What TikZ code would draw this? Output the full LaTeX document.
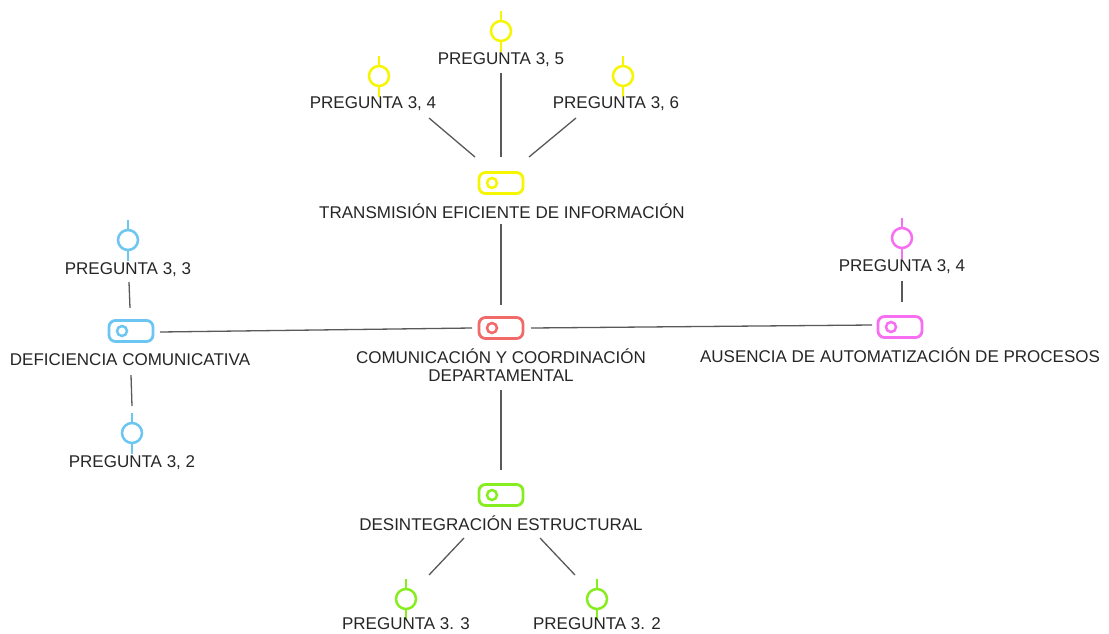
\documentclass[tikz,border=0pt]{standalone}
\usepackage{fontspec}
\setmainfont{Liberation Sans}
\begin{document}
\begin{tikzpicture}[x=1pt,y=-1pt,
  lbl/.style={inner sep=0pt, text=black!85, font=\fontsize{17}{18}\selectfont},
  icon/.style={draw=#1, line width=2.8pt, rounded corners=6.5pt, minimum width=44pt,
    minimum height=21pt, inner sep=0pt},
  marker/.style={draw=#1, line width=2.5pt, circle, minimum size=20pt, inner sep=0pt},
  stem/.style={#1, line width=2.5pt},
  link/.style={draw=black!65, line width=1.3pt}]
\definecolor{cred}{HTML}{F06A6A}
\definecolor{cyel}{HTML}{F6F600}
\definecolor{cblu}{HTML}{6CC6F2}
\definecolor{cmag}{HTML}{F76EF2}
\definecolor{cgrn}{HTML}{86EE20}
\useasboundingbox[fill=white] (0,0) rectangle (1109,633);

% --- central topic
\node[icon=cred] (cen) at (501,328) {};
\draw[cred, line width=2.5pt] ([xshift=-9pt]cen.center) circle (5pt);
\node[lbl, align=center] (cent) at (501,365) {COMUNICACIÓN Y COORDINACIÓN\\DEPARTAMENTAL};

% --- topics
\node[icon=cyel] (top) at (501,183) {};
\draw[cyel, line width=2.5pt] ([xshift=-9pt]top.center) circle (5pt);
\node[lbl] (topt) at (502,211) {TRANSMISIÓN EFICIENTE DE INFORMACIÓN};

\node[icon=cblu] (lft) at (131,331) {};
\draw[cblu, line width=2.5pt] ([xshift=-9pt]lft.center) circle (5pt);
\node[lbl] (lftt) at (130,360) {DEFICIENCIA COMUNICATIVA};

\node[icon=cmag] (rgt) at (900,327) {};
\draw[cmag, line width=2.5pt] ([xshift=-9pt]rgt.center) circle (5pt);
\node[lbl] (rgtt) at (900,355) {AUSENCIA DE AUTOMATIZACIÓN DE PROCESOS};

\node[icon=cgrn] (bot) at (501,495) {};
\draw[cgrn, line width=2.5pt] ([xshift=-9pt]bot.center) circle (5pt);
\node[lbl] (bott) at (501,523) {DESINTEGRACIÓN ESTRUCTURAL};

% --- question markers: circle with short stems above and below
\foreach \n/\x/\y/\c in {q5/501/31/cyel, q4/379/76/cyel, q6/623/76/cyel,
    q33/128/240/cblu, q32/132/433/cblu, qm4/902/238/cmag,
    qg3/406/599/cgrn, qg2/597/599/cgrn} {
  \node[marker=\c] (\n) at (\x,\y) {};
  \draw[stem=\c] (\n.north) -- ([yshift=9pt]\n.north);
  \draw[stem=\c] (\n.south) -- ([yshift=-10pt]\n.south);
}
\node[lbl] (q5t) at (501,60) {PREGUNTA 3, 5};
\node[lbl] (q4t) at (373,104) {PREGUNTA 3, 4};
\node[lbl] (q6t) at (616,104) {PREGUNTA 3, 6};
\node[lbl] (q33t) at (128,270) {PREGUNTA 3, 3};
\node[lbl] (q32t) at (132,463) {PREGUNTA 3, 2};
\node[lbl] (qm4t) at (902,267) {PREGUNTA 3, 4};
\node[lbl] (qg3t) at (406,624) {PREGUNTA 3. 3};
\node[lbl] (qg2t) at (597,624) {PREGUNTA 3. 2};

% --- connector end points
\coordinate (a1) at (501,224); \coordinate (a2) at (501,305);
\coordinate (b1) at (160,332); \coordinate (b2) at (472,328);
\coordinate (c1) at (531,328); \coordinate (c2) at (872,325);
\coordinate (d1) at (501,390); \coordinate (d2) at (501,470);
\coordinate (e1) at (501,73);  \coordinate (e2) at (501,157);
\coordinate (f1) at (429,118); \coordinate (f2) at (475,157);
\coordinate (g1) at (576,118); \coordinate (g2) at (529,157);
\coordinate (h1) at (129,282); \coordinate (h2) at (130,308);
\coordinate (i1) at (131,375); \coordinate (i2) at (132,406);
\coordinate (j1) at (902,281); \coordinate (j2) at (902,302);
\coordinate (k1) at (464,538); \coordinate (k2) at (429,575);
\coordinate (l1) at (540,538); \coordinate (l2) at (575,575);

% --- connectors
\draw[link] (a1) -- (a2);
\draw[link] (b1) -- (b2);
\draw[link] (c1) -- (c2);
\draw[link] (d1) -- (d2);
\draw[link] (e1) -- (e2);
\draw[link] (f1) -- (f2);
\draw[link] (g1) -- (g2);
\draw[link] (h1) -- (h2);
\draw[link] (i1) -- (i2);
\draw[link] (j1) -- (j2);
\draw[link] (k1) -- (k2);
\draw[link] (l1) -- (l2);
\end{tikzpicture}
\end{document}
